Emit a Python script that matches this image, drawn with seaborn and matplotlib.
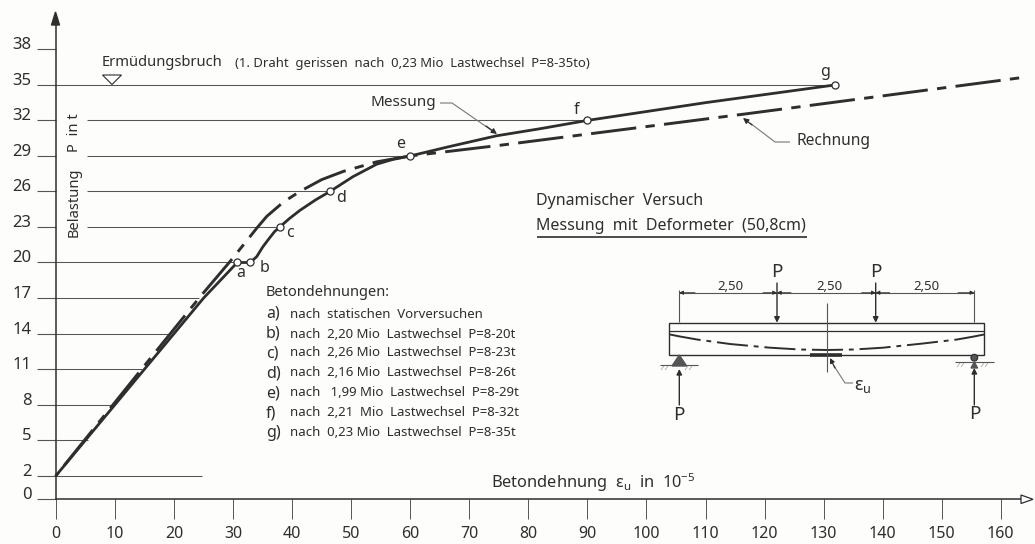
import matplotlib
matplotlib.use("Agg")
import matplotlib.pyplot as plt
from matplotlib.patches import Polygon, Rectangle, Circle
import pandas as pd
import seaborn as sns

# Werte
x_ticks = list(range(0, 170, 10))
y_ticks = [0, 2, 5, 8, 11, 14, 17, 20, 23, 26, 29, 32, 35, 38]

mess_x = [0, 15, 25, 30.7, 32.9, 34, 35, 35.9, 37, 37.9, 39.5, 41.3, 44, 46.4, 50.3, 54.3, 57, 60, 66.7, 74.6, 82, 90, 110, 132]
mess_y = [2, 11, 17, 20, 20, 20.5, 21.3, 21.9, 22.6, 23, 23.7, 24.4, 25.3, 26, 27.25, 28.3, 28.7, 29, 29.8, 30.7, 31.3, 32, 33.5, 35]

rech_x = [0, 15, 24.4, 29.5, 32, 34, 35.7, 38.5, 41.3, 45, 48.7, 54.3, 60, 75.2, 116.8, 163.3]
rech_y = [2, 11.3, 17.1, 20.1, 21.65, 22.9, 23.9, 25.1, 26, 27, 27.7, 28.5, 29, 29.9, 32.55, 35.6]

point_names = ["a", "b", "c", "d", "e", "f", "g"]
point_x = [30.7, 32.9, 37.9, 46.4, 60, 90, 132]
point_y = [20, 20, 23, 26, 29, 32, 35]

hline_y = [2, 5, 8, 11, 14, 17, 20, 23, 26, 29, 32, 35]
hline_start = [0, 0, 0, 0, 0, 0, 0, 5.2, 5.2, 5.2, 5.2, 0]
hline_end = [24.8, 5.5, 9.4, 14.5, 19, 24.3, 30.7, 37.9, 46.4, 60, 90, 132]

notes = [
    ("a)", "nach  statischen  Vorversuchen"),
    ("b)", "nach  2,20 Mio  Lastwechsel  P=8-20t"),
    ("c)", "nach  2,26 Mio  Lastwechsel  P=8-23t"),
    ("d)", "nach  2,16 Mio  Lastwechsel  P=8-26t"),
    ("e)", "nach   1,99 Mio  Lastwechsel  P=8-29t"),
    ("f)", "nach  2,21  Mio  Lastwechsel  P=8-32t"),
    ("g)", "nach  0,23 Mio  Lastwechsel  P=8-35t"),
]

ink = "#2e2e2e"
thin = "#555555"

sns.set_theme(style="white")
plt.rcParams["font.family"] = ["Noto Sans", "DejaVu Sans"]

fig = plt.figure(figsize=(10.35, 5.44), dpi=100, facecolor="#fdfdfc")
ax = fig.add_axes([0, 0, 1, 1], facecolor="none")
ax.set_xlim(-9.483, 165.8)
ax.set_ylim(-3.775, 42.17)

# Achsen
for side in ["top", "right"]:
    ax.spines[side].set_visible(False)
ax.spines["left"].set_position(("data", 0))
ax.spines["bottom"].set_position(("data", 0))
ax.spines["left"].set_bounds(0, 40.5)
ax.spines["bottom"].set_bounds(0, 164)
for side in ["left", "bottom"]:
    ax.spines[side].set_color(ink)
    ax.spines[side].set_linewidth(1.1)
ax.set_xticks(x_ticks)
ax.set_yticks(y_ticks)
ax.tick_params(axis="x", bottom=True, length=14.4, width=0.7, color=thin, pad=5, labelsize=11.5, labelcolor=ink)
ax.tick_params(axis="y", left=True, length=13.5, width=0.8, color=thin, pad=4, labelsize=12, labelcolor=ink)
plt.setp(ax.get_yticklabels(), va="baseline")

ax.hlines(hline_y, hline_start, hline_end, color=thin, linewidth=0.75)

# Kurven
rechnung = pd.DataFrame({"x": rech_x, "y": rech_y})
messung = pd.DataFrame({"x": mess_x, "y": mess_y})
sns.lineplot(data=rechnung, x="x", y="y", ax=ax, color=ink, linewidth=2.1, sort=False,
             estimator=None, linestyle=(20.7, (15.6, 3.2, 3.2, 3.2)))
sns.lineplot(data=messung, x="x", y="y", ax=ax, color=ink, linewidth=2.0, sort=False, estimator=None)
sns.scatterplot(x=point_x, y=point_y, ax=ax, s=26, color="white", edgecolor=ink, linewidth=0.9, zorder=5)
ax.set_xlabel("")
ax.set_ylabel("")

# Skizze und Beschriftung in Pixelkoordinaten
sk = fig.add_axes([0, 0, 1, 1], facecolor="none")
sk.set_xlim(0, 1035)
sk.set_ylim(544, 0)
sk.axis("off")


def label(x, y, s, size=11, ha="left", **kw):
    sk.text(x, y, s, fontsize=size, ha=ha, va="center", color=ink, **kw)


def line(xs, ys, lw=0.8, color=thin, **kw):
    sk.plot(xs, ys, color=color, linewidth=lw, solid_capstyle="butt", **kw)


def arrow(start, end, lw=0.9, style="-|>", scale=9):
    sk.annotate("", xy=end, xytext=start, arrowprops=dict(arrowstyle=style, color=ink, lw=lw,
                mutation_scale=scale, shrinkA=0, shrinkB=0))


# Pfeile der Achsen
sk.add_patch(Polygon([(55.5, 12), (51.5, 25), (59.5, 25)], closed=True, color=ink))
sk.add_patch(Polygon([(1033, 499.3), (1021, 495), (1021, 503.5)], closed=True, fc="white", ec=ink, lw=0.9))

label(102, 63, "Ermüdungsbruch", 10.6)
label(235, 64, "(1. Draht  gerissen  nach  0,23 Mio  Lastwechsel  P=8-35to)", 9.4)
sk.add_patch(Polygon([(102.5, 75), (121.5, 75), (112, 84.5)], closed=True, fc="white", ec=ink, lw=0.8))

label(371, 103, "Messung", 11)
line([440, 452, 494], [103, 103, 132], color="#777777")
arrow((486, 126), (497, 134), scale=8)
label(796, 141, "Rechnung", 11.2)
line([790, 775, 750], [142, 142, 123], color="#777777")
arrow((752, 125), (743, 118), scale=8)

for name, (px_x, px_y) in zip(point_names, [(241, 273), (265, 268), (290, 233), (341, 198), (401, 144), (577, 110), (825, 72)]):
    label(px_x, px_y, name, 11.5, ha="center")

label(74, 202, "Belastung", 10.6, ha="center", rotation=90)
label(74, 133, "P  in t", 10.6, ha="center", rotation=90)

label(536, 201, "Dynamischer  Versuch", 11.5)
label(536, 226, "Messung  mit  Deformeter  (50,8cm)", 11.5)
line([537, 807], [237, 237], lw=1.2, color=ink)

label(266, 293, "Betondehnungen:", 10.5)
for (key, note), note_y in zip(notes, [314, 334, 353, 373, 393, 413, 433]):
    label(266, note_y, key, 11.5)
    label(290, note_y, note, 9.5)

label(491, 483, r"Betondehnung  $\mathregular{\varepsilon_u}$  in  $\mathregular{10^{-5}}$", 11.8)

# Balken
sk.add_patch(Rectangle((669.3, 322.7), 314.7, 32, fc="none", ec=ink, lw=1.0))
line([669.3, 984], [331, 331], lw=0.9, color=ink)
line([670, 680, 697, 730, 770, 800, 827, 854, 883, 923, 957, 974, 984],
     [334.5, 336.5, 339.5, 344, 347.7, 349.5, 350, 349.5, 347.7, 343.5, 339.5, 336.5, 334.5],
     lw=1.4, color=ink, linestyle=(0, (16, 3, 2.5, 3)))
line([810, 842], [354.7, 354.7], lw=2.6, color=ink)
line([826.7, 826.7], [303, 372])

# Bemassung
line([679.3, 974.3], [292.7, 292.7])
line([679.3, 679.3], [290, 322])
line([974.3, 974.3], [290, 322])
arrow((695, 292.7), (679.3, 292.7), lw=0.6, scale=6)
arrow((958, 292.7), (974.3, 292.7), lw=0.6, scale=6)
for cx in [777, 875.7]:
    arrow((cx - 14, 292.7), (cx, 292.7), lw=0.6, scale=6)
    arrow((cx + 14, 292.7), (cx, 292.7), lw=0.6, scale=6)
    arrow((cx, 283), (cx, 322.7), lw=1.0, scale=8)
    label(cx, 272, "P", 13.5, ha="center")
for cx in [730, 829, 926]:
    label(cx, 286, "2,50", 9.5, ha="center")

# Auflager
sk.add_patch(Polygon([(679.3, 355), (672, 366), (686.6, 366)], closed=True, color="#555555"))
line([660, 698], [365, 365])
sk.add_patch(Circle((974.3, 357.7), 3.4, fc="#555555", ec=ink, lw=0.8))
sk.add_patch(Polygon([(974.3, 362), (971, 368), (977.6, 368)], closed=True, color="#555555"))
line([955, 994], [362, 362])
for start in [664, 668, 688, 692]:
    line([start, start - 3], [366, 370], lw=0.5, color="#999999")
for start in [960, 964, 984, 988]:
    line([start, start - 3], [363, 367], lw=0.5, color="#999999")
for cx, top in [(679.3, 369), (974.3, 368)]:
    arrow((cx, 405), (cx, top), lw=1.0, scale=8)
label(679.3, 415, "P", 13.5, ha="center")
label(975, 414, "P", 13.5, ha="center")

# Messstelle
line([834, 845, 853], [366, 383, 383], color="#777777")
arrow((835, 368), (830, 358), scale=7)
label(854, 386, r"$\mathregular{\varepsilon_u}$", 13)

fig.savefig("out.png", dpi=100, facecolor=fig.get_facecolor())
